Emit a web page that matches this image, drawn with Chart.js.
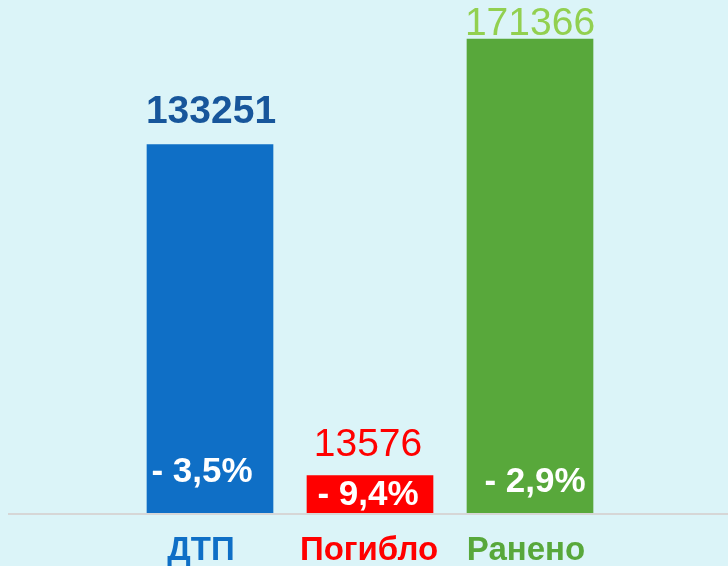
<!DOCTYPE html>
<html>
<head>
<meta charset="utf-8">
<script src="https://cdn.jsdelivr.net/npm/chart.js@4"></script>
<style>
  html, body { margin: 0; padding: 0; background: #dbf4f8; }
  #wrap { width: 728px; height: 566px; }
</style>
</head>
<body>
<div id="wrap"><canvas id="chart" width="728" height="566"></canvas></div>
<script>
// ── Data ───────────────────────────────────────────────────────────
const categories = ['ДТП', 'Погибло', 'Ранено'];
const values     = [133251, 13576, 171366];
const changes    = ['- 3,5%', '- 9,4%', '- 2,9%'];

// ── Styles ─────────────────────────────────────────────────────────
const FONT = '"Liberation Sans", Arial, sans-serif';
const barColors   = ['#0f6fc6', '#ff0000', '#58a83b'];
const valueColors = ['#17569b', '#ff0000', '#92d050'];
const catColors   = ['#0f6fc6', '#ff0000', '#58a83b'];
const valueWeight = ['bold', 'normal', 'normal'];
// baseline offsets (px) from bar top / zero line, and x nudges
const valueDy = [-21, -19, -4];
const valueDx = [1, -2, 0];
const pctDy   = [-31, -8, -21];
const pctDx   = [-8, -2, 5];
const catDx   = [-9, -1, -4];

const labelsPlugin = {
  id: 'labels',
  afterDatasetsDraw(chart) {
    const ctx = chart.ctx;
    const y = chart.scales.y;
    const x = chart.scales.x;
    const y0 = y.getPixelForValue(0);
    ctx.save();
    // baseline across the whole width
    ctx.strokeStyle = '#d6d6d6';
    ctx.lineWidth = 2;
    ctx.beginPath();
    ctx.moveTo(8, y0 + 1);
    ctx.lineTo(chart.width, y0 + 1);
    ctx.stroke();

    ctx.textAlign = 'center';
    ctx.textBaseline = 'alphabetic';
    values.forEach((v, i) => {
      const cx = x.getPixelForValue(i);
      const top = y.getPixelForValue(v);
      ctx.font = valueWeight[i] + ' 39px ' + FONT;
      ctx.fillStyle = valueColors[i];
      ctx.fillText(String(v), cx + valueDx[i], top + valueDy[i]);

      ctx.font = 'bold 35px ' + FONT;
      ctx.fillStyle = '#ffffff';
      ctx.fillText(changes[i], cx + pctDx[i], y0 + pctDy[i]);

      ctx.font = 'bold 33px ' + FONT;
      ctx.fillStyle = catColors[i];
      ctx.fillText(categories[i], cx + catDx[i], y0 + 47);
    });
    ctx.restore();
  }
};

new Chart(document.getElementById('chart'), {
  type: 'bar',
  data: {
    labels: categories,
    datasets: [{
      data: values,
      backgroundColor: barColors,
      borderWidth: 0,
      barThickness: 126,
    }]
  },
  options: {
    responsive: false,
    animation: false,
    layout: { padding: { left: 130, right: 118, top: 0, bottom: 53 } },
    plugins: { legend: { display: false }, tooltip: { enabled: false } },
    scales: {
      x: { display: false },
      y: { display: false, min: 0, max: 185500 }
    }
  },
  plugins: [labelsPlugin]
});
</script>
</body>
</html>
